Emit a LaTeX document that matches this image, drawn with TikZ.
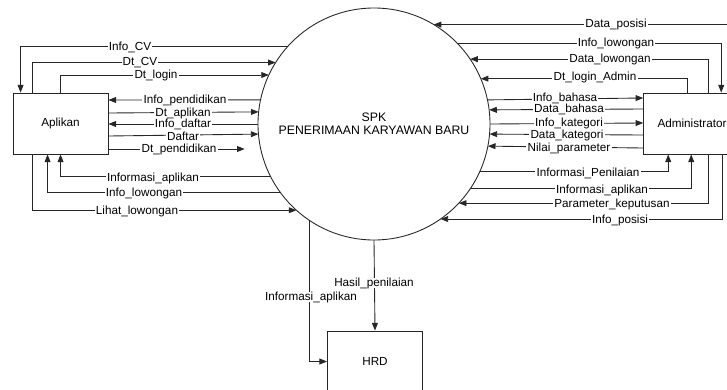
\documentclass[tikz,border=0pt]{standalone}
\usepackage{fontspec}
\setmainfont{Liberation Sans}
\usetikzlibrary{arrows.meta,calc}

\begin{document}
\begin{tikzpicture}[x=0.03cm,y=-0.03cm,
  flow/.style={draw=black!85,line width=0.75pt,-{Triangle[length=6.5pt,width=5pt]}},
  lbl/.style={fill=white,inner xsep=1pt,inner ysep=0pt,font=\fontsize{10}{11}\selectfont},
  ent/.style={draw=black!85,line width=0.75pt,minimum width=2.85cm,minimum height=1.83cm,font=\fontsize{10}{12}\selectfont}]
\useasboundingbox (0,0) rectangle (727,389);
\node[circle,draw=black!85,line width=0.75pt,minimum size=6.96cm,inner sep=0pt,outer sep=0pt,align=center,font=\fontsize{10.5}{11.5}\selectfont] (spk) at (374,124) {SPK\\PENERIMAAN KARYAWAN BARU};
\node[ent] (apl) at (60.5,123.5) {Aplikan};
\node[ent,minimum width=2.9cm] (adm) at (692,123.5) {Administrator};
\node[ent] (hrd) at (375,361.5) {HRD};
% Aplikan
\foreach \y/\txt/\lx in {113/Dt\_aplikan/183,136/Daftar/183}{
  \pgfmathsetmacro\a{180+asin((\y-124)/116)}
  \draw[flow] (apl.east |- 0,\y) -- (spk.\a);
  \node[lbl] at (\lx,\y) {\txt};
}
\draw[flow,shorten >=0.4cm] (apl.east |- 0,149) -- (spk.west |- 0,149);
\node[lbl] at (179,149) {Dt\_pendidikan};
\foreach \y/\txt/\lx in {100/Info\_pendidikan/185,124/Info\_daftar/183}{
  \pgfmathsetmacro\a{180+asin((\y-124)/116)}
  \draw[flow] (spk.\a) -- (apl.east |- 0,\y);
  \node[lbl] at (\lx,\y) {\txt};
}
\foreach \y/\txt/\lx/\an/\dx in {63/Dt\_CV/140/north west/20,75/Dt\_login/156/north west/48,211/Lihat\_lowongan/137/south west/20}{
  \pgfmathsetmacro\a{180+asin((\y-124)/116)}
  \draw[flow] ($(apl.\an)+(\dx,0)$) |- (spk.\a);
  \node[lbl] at (\lx,\y) {\txt};
}
\foreach \y/\txt/\lx/\an/\dx in {47/Info\_CV/130/north west/8,178/Informasi\_aplikan/153/south west/48,193/Info\_lowongan/144/south west/35}{
  \pgfmathsetmacro\a{180+asin((\y-124)/116)}
  \draw[flow] (spk.\a) -| ($(apl.\an)+(\dx,0)$);
  \node[lbl] at (\lx,\y) {\txt};
}
% Administrator
\foreach \y/\txt/\lx in {109/Data\_bahasa/569,135/Data\_kategori/567,148/Nilai\_parameter/569}{
  \pgfmathsetmacro\a{asin((124-\y)/116)}
  \draw[flow] (adm.west |- 0,\y) -- (spk.\a);
  \node[lbl] at (\lx,\y) {\txt};
}
\foreach \y/\txt/\lx in {98/Info\_bahasa/565,123/Info\_kategori/569}{
  \pgfmathsetmacro\a{asin((124-\y)/116)}
  \draw[flow] (spk.\a) -- (adm.west |- 0,\y);
  \node[lbl] at (\lx,\y) {\txt};
}
\foreach \y/\txt/\lx/\an/\dx in {24/Data\_posisi/616/north west/91,59/Data\_lowongan/610/north west/65,77/Dt\_login\_Admin/595/north west/44,204/Parameter\_keputusan/612/south west/65,220/Info\_posisi/620/south west/79}{
  \pgfmathsetmacro\a{asin((124-\y)/116)}
  \draw[flow] ($(adm.\an)+(\dx,0)$) |- (spk.\a);
  \node[lbl] at (\lx,\y) {\txt};
}
\foreach \y/\txt/\lx/\an/\dx in {43/Info\_lowongan/616/north west/78,173/Informasi\_Penilaian/588/south west/25,190/Informasi\_aplikan/602/south west/48}{
  \pgfmathsetmacro\a{asin((124-\y)/116)}
  \draw[flow] (spk.\a) -| ($(adm.\an)+(\dx,0)$);
  \node[lbl] at (\lx,\y) {\txt};
}
% HRD
\draw[flow] (spk.south) -- (hrd.north);
\node[lbl] at (374,283) {Hasil\_penilaian};
\draw[flow] (spk.236) |- (hrd.west);
\node[lbl] at (311,297) {Informasi\_aplikan};
\end{tikzpicture}
\end{document}
